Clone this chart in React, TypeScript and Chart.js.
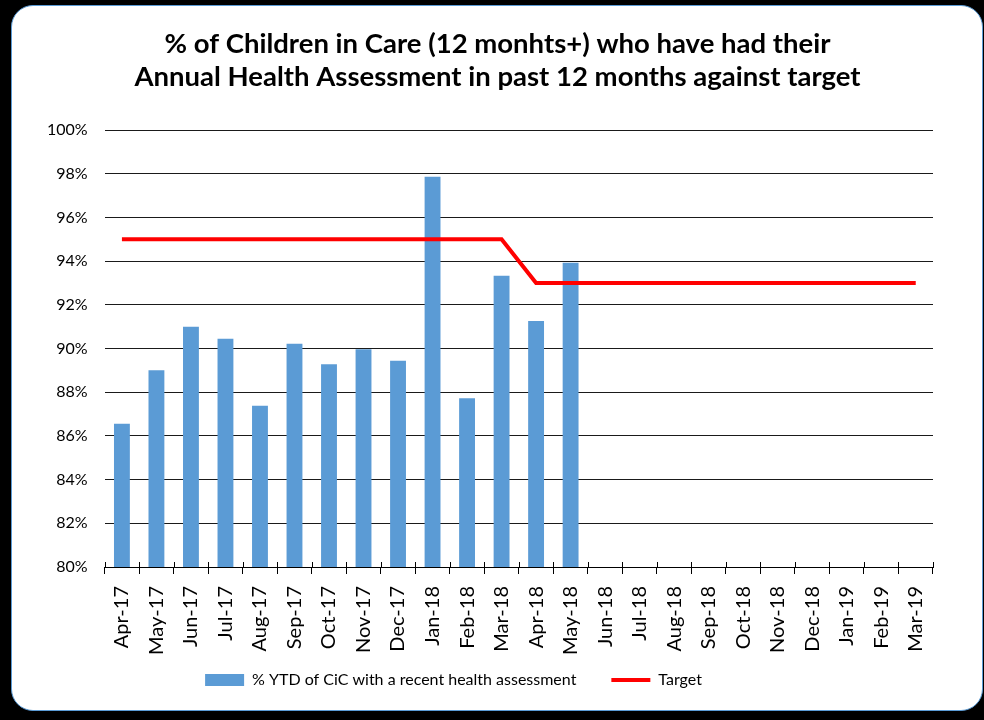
import { useEffect, useRef } from 'react';
import { Chart, registerables } from 'chart.js';

Chart.register(...registerables);

const categories = [
  'Apr-17', 'May-17', 'Jun-17', 'Jul-17', 'Aug-17', 'Sep-17', 'Oct-17', 'Nov-17',
  'Dec-17', 'Jan-18', 'Feb-18', 'Mar-18', 'Apr-18', 'May-18', 'Jun-18', 'Jul-18',
  'Aug-18', 'Sep-18', 'Oct-18', 'Nov-18', 'Dec-18', 'Jan-19', 'Feb-19', 'Mar-19',
];

const assessmentValues: (number | null)[] = [
  86.56, 89.0, 91.0, 90.45, 87.38, 90.22, 89.28, 89.96, 89.44, 97.86, 87.72, 93.33,
  91.26, 93.93, null, null, null, null, null, null, null, null, null, null,
];

const targetValues = [
  95, 95, 95, 95, 95, 95, 95, 95, 95, 95, 95, 95,
  93, 93, 93, 93, 93, 93, 93, 93, 93, 93, 93, 93,
];

const titleLines = [
  '% of Children in Care (12 monhts+) who have had their',
  'Annual Health Assessment in past 12 months against target',
];

const seriesNames = ['% YTD of CiC with a recent health assessment', 'Target'];

const yMin = 80;
const yMax = 100;
const yStep = 2;

const crossTicks = {
  id: 'crossTicks',
  afterLayout(chart: any) {
    const x = chart.scales.x;
    // let rotated labels draw past the (shortened) scale box
    x.bottom = x.top + 110;
    if (chart.titleBlock) {
      chart.titleBlock.left += 16;
      chart.titleBlock.right += 16;
    }
    if (chart.legend) {
      chart.legend.left -= 28;
      chart.legend.right -= 28;
    }
  },
  afterDatasetsDraw(chart: any) {
    const x = chart.scales.x;
    const ctx = chart.ctx;
    ctx.save();
    ctx.strokeStyle = '#000';
    ctx.lineWidth = 1;
    for (let i = 0; i <= categories.length; i++) {
      const px = Math.round(x.getPixelForValue(i - 0.5)) + 0.5;
      ctx.beginPath();
      ctx.moveTo(px, x.top - 5);
      ctx.lineTo(px, x.top);
      ctx.stroke();
    }
    ctx.restore();
  },
};

export default function App() {
  const ref = useRef<HTMLCanvasElement | null>(null);

  useEffect(() => {
    document.body.style.margin = '0';
    const font = 'Lato, "Noto Sans", sans-serif';
    const chart = new Chart(ref.current as HTMLCanvasElement, {
      type: 'bar',
      data: {
        labels: categories,
        datasets: [
          {
            type: 'bar',
            label: seriesNames[0],
            data: assessmentValues,
            backgroundColor: '#5B9BD5',
            borderWidth: 0,
            categoryPercentage: 1,
            barPercentage: 0.46,
            order: 2,
          },
          {
            type: 'line',
            label: seriesNames[1],
            data: targetValues,
            borderColor: '#FF0000',
            backgroundColor: '#FF0000',
            borderWidth: 4,
            pointRadius: 0,
            tension: 0,
            order: 1,
          },
        ],
      },
      plugins: [crossTicks],
      options: {
        animation: false,
        responsive: false,
        maintainAspectRatio: false,
        layout: { padding: { left: 30, right: 51, top: 0, bottom: 22 } },
        scales: {
          x: {
            grid: {
              offset: true,
              drawOnChartArea: false,
              drawTicks: true,
              tickLength: 7,
              color: '#000',
            },
            border: { display: true, color: '#000', width: 1 },
            ticks: {
              maxRotation: 90,
              minRotation: 90,
              autoSkip: false,
              padding: 12,
              color: '#000',
              font: { family: font, size: 20 },
            },
            afterFit: (scale: any) => {
              scale.height = 70;
            },
          },
          y: {
            min: yMin,
            max: yMax,
            grid: { color: '#1a1a1a', drawTicks: false, lineWidth: 1 },
            border: { display: false },
            ticks: {
              stepSize: yStep,
              padding: 17,
              color: '#000',
              font: { family: font, size: 16 },
              callback: (v: any) => v + '%',
            },
          },
        },
        plugins: {
          title: {
            display: true,
            text: titleLines,
            color: '#000',
            font: { family: font, size: 27.5, weight: 'bold', lineHeight: 1.2 },
            padding: { top: 28, bottom: 36 },
          },
          legend: {
            position: 'bottom',
            labels: {
              usePointStyle: true,
              pointStyleWidth: 39,
              boxHeight: 12,
              padding: 35,
              color: '#000',
              font: { family: font, size: 16 },
              sort: (a: any, b: any) => a.datasetIndex - b.datasetIndex,
              generateLabels: (c: any) => {
                const items = Chart.defaults.plugins.legend.labels.generateLabels(c);
                return items.map((it: any) => ({
                  ...it,
                  pointStyle: it.datasetIndex === 0 ? 'rect' : 'line',
                  lineWidth: it.datasetIndex === 0 ? 0 : 4,
                }));
              },
            },
          },
          tooltip: { enabled: false },
        },
      },
    });
    return () => chart.destroy();
  }, []);

  return (
    <div style={{ position: 'fixed', left: 0, top: 0, width: 984, height: 720, background: '#000', overflow: 'hidden' }}>
      <div
        style={{
          position: 'absolute',
          left: 11,
          top: 5,
          width: 970,
          height: 704,
          background: '#fff',
          border: '1px solid #5B9BD5',
          borderRadius: 22,
        }}
      />
      <canvas ref={ref} width={984} height={720} style={{ position: 'absolute', left: 0, top: 0, width: 984, height: 720 }} />
    </div>
  );
}
